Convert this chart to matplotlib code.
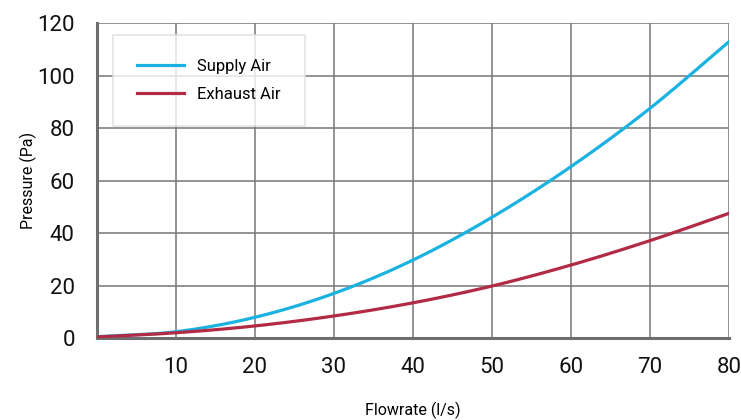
import matplotlib
matplotlib.use("Agg")
import matplotlib.pyplot as plt
import numpy as np

flow = [0, 10, 20, 30, 40, 50, 60, 70, 80]
supply_air = [0.5, 2.4, 7.9, 17.0, 29.7, 46.0, 65.3, 87.5, 112.9]
exhaust_air = [0.4, 2.0, 4.6, 8.4, 13.4, 19.8, 27.8, 37.1, 47.5]
x_ticks = [10, 20, 30, 40, 50, 60, 70, 80]
y_ticks = [0, 20, 40, 60, 80, 100, 120]

plt.rcParams['font.family'] = ['Roboto', 'DejaVu Sans']

fig = plt.figure(figsize=(7.41, 4.2), dpi=100)
ax = fig.add_axes([0.1309, 0.1952, 0.9838 - 0.1309, 0.9452 - 0.1952])

xs = np.linspace(0, 80, 400)
def smooth(x, y):
    # Catmull-Rom interpolation through the read points
    x = np.asarray(x, float); y = np.asarray(y, float)
    out = np.empty_like(xs)
    for k, xv in enumerate(xs):
        i = min(max(np.searchsorted(x, xv) - 1, 0), len(x) - 2)
        t = (xv - x[i]) / (x[i + 1] - x[i])
        p0 = y[i - 1] if i > 0 else 2 * y[i] - y[i + 1]
        p1, p2 = y[i], y[i + 1]
        p3 = y[i + 2] if i + 2 < len(y) else 2 * y[i + 1] - y[i]
        out[k] = 0.5 * ((2 * p1) + (-p0 + p2) * t + (2 * p0 - 5 * p1 + 4 * p2 - p3) * t**2 + (-p0 + 3 * p1 - 3 * p2 + p3) * t**3)
    return out

ax.plot(xs, smooth(flow, supply_air), color='#1ab2e0', lw=2.3, label='Supply Air', zorder=3)
ax.plot(xs, smooth(flow, exhaust_air), color='#b22a44', lw=2.3, label='Exhaust Air', zorder=3)

ax.set_xlim(0, 80)
ax.set_ylim(0, 120)
ax.set_xticks(x_ticks)
ax.set_yticks(y_ticks)
ax.grid(True, color='#777777', lw=1.1, zorder=0)
for s in ['top', 'right']:
    ax.spines[s].set_visible(False)
for s in ['left', 'bottom']:
    ax.spines[s].set_color('#6e6e6e')
    ax.spines[s].set_linewidth(2.2)
ax.tick_params(length=0, labelsize=16, colors='#111111')
ax.tick_params(axis='y', pad=16)
ax.tick_params(axis='x', pad=14)
ax.set_xlabel('Flowrate (l/s)', fontsize=11.5, labelpad=17)
ax.set_ylabel('Pressure (Pa)', fontsize=11.5, labelpad=0)

leg = ax.legend(loc='upper left', bbox_to_anchor=(0.025, 0.962), fontsize=12,
                frameon=True, fancybox=False, handlelength=2.8, handletextpad=0.8,
                borderpad=1.45, labelspacing=0.75, borderaxespad=0)
leg.get_frame().set_edgecolor('#dddddd')
leg.get_frame().set_linewidth(1.2)

fig.savefig('out.png', dpi=100)
